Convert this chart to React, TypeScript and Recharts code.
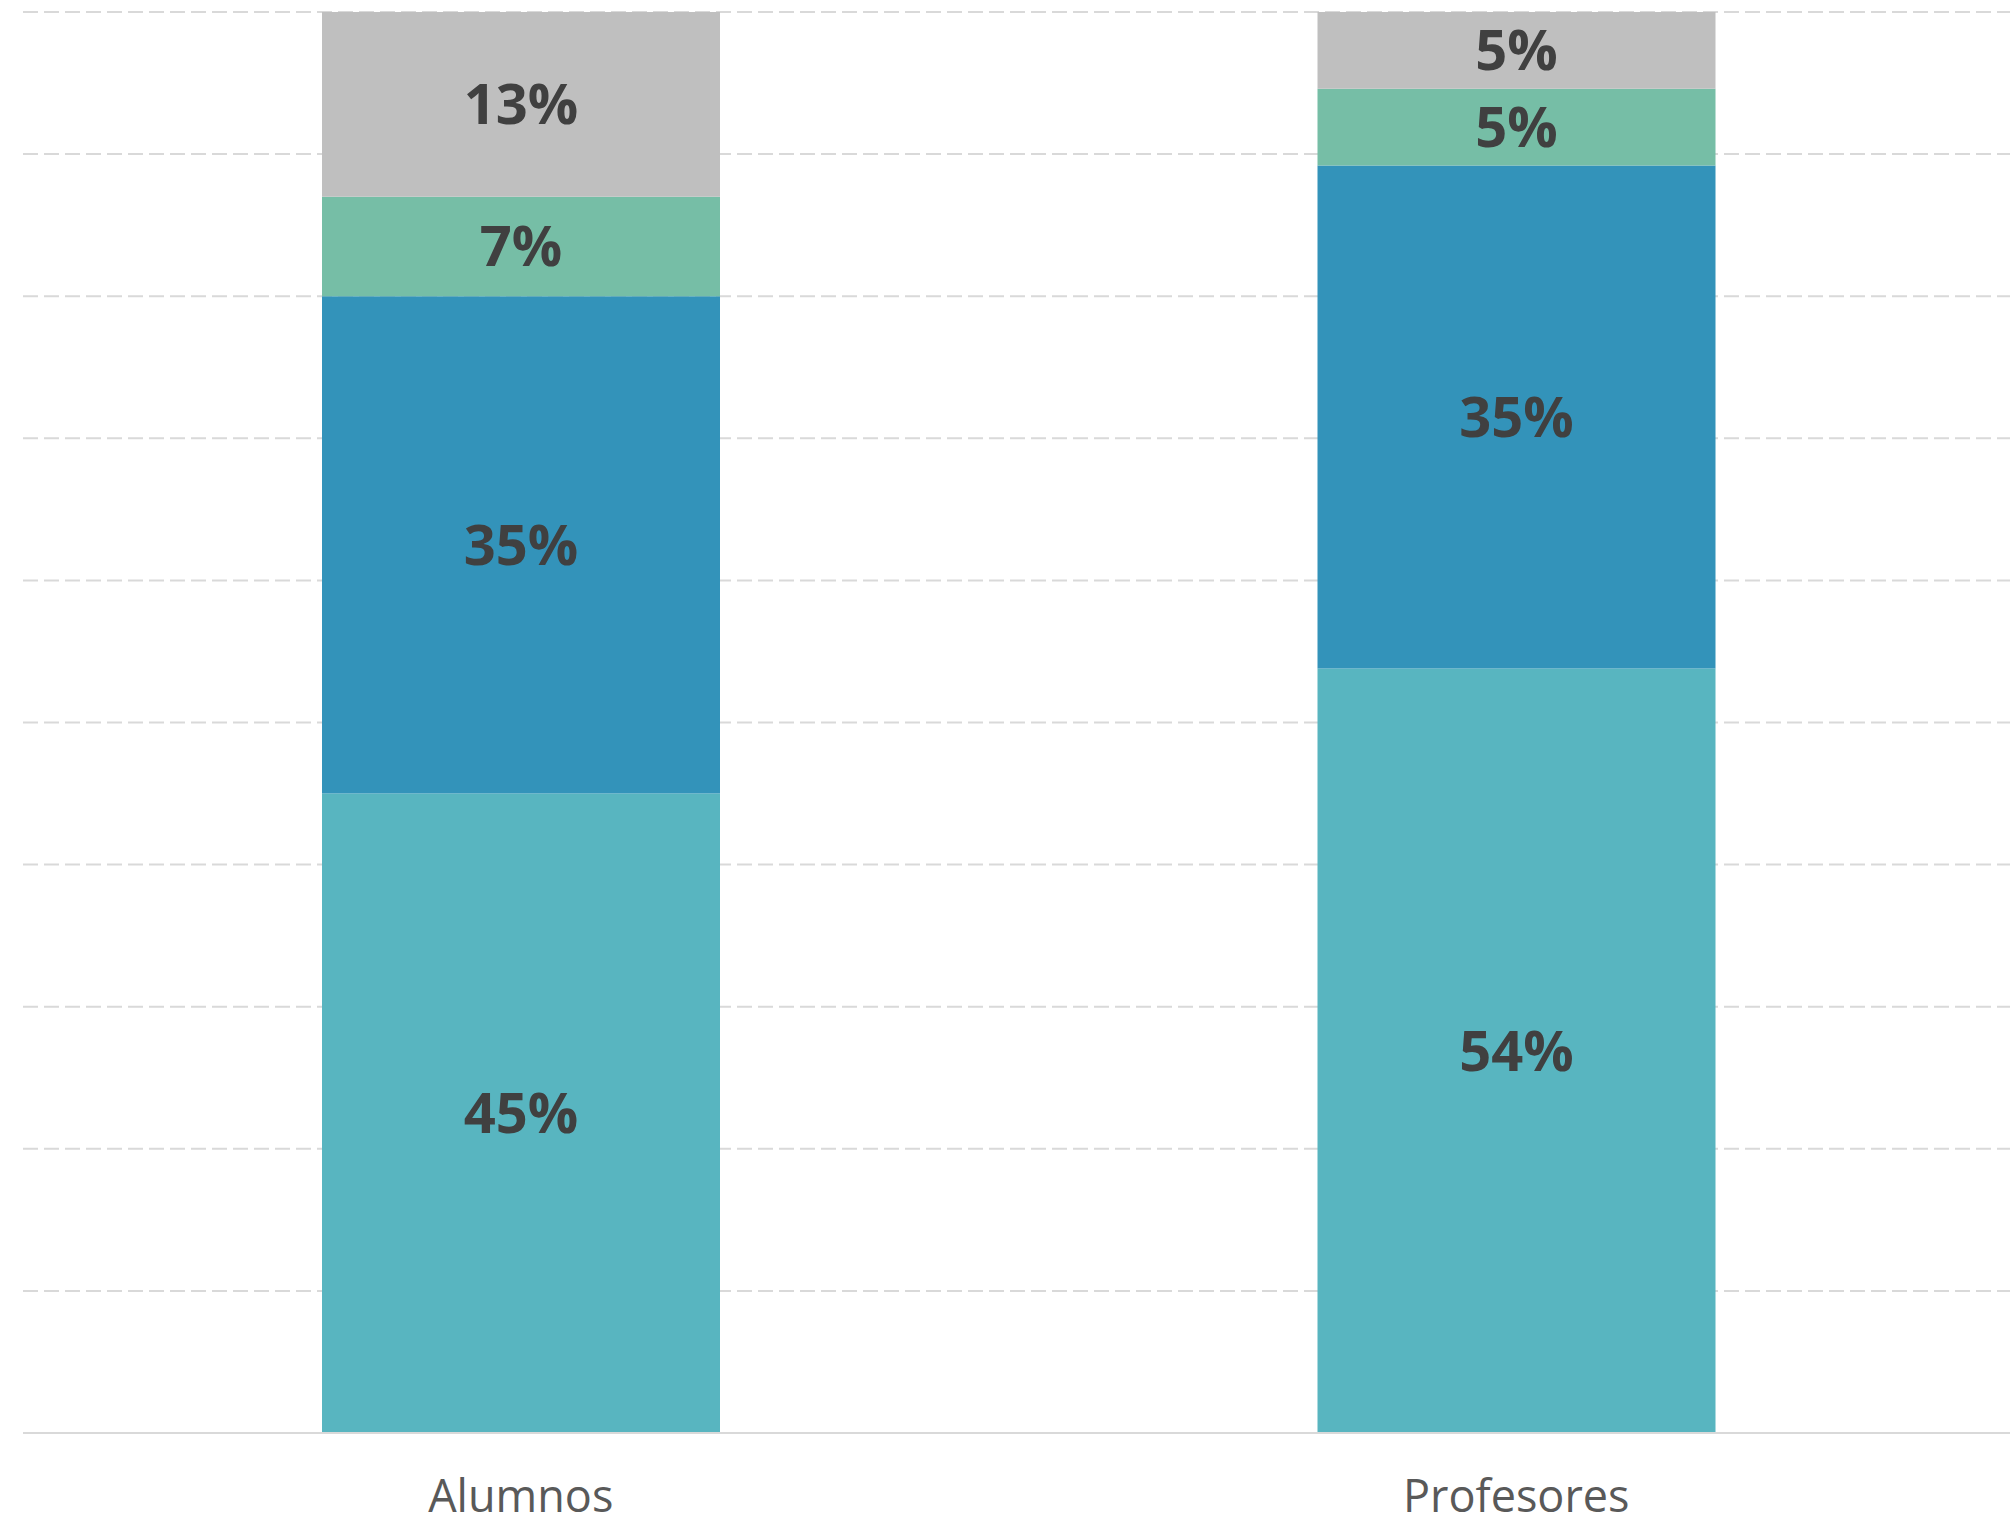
import React from "react";
import { BarChart, Bar, XAxis, YAxis, CartesianGrid, LabelList } from "recharts";

document.body.style.margin = "0";

// categories and shares (%), bottom segment first
const categories = ["Alumnos", "Profesores"];
const seg1 = [45, 53.8];
const seg2 = [35, 35.4];
const seg3 = [7, 5.4];
const seg4 = [13, 5.4];
const yTicks = [0, 10, 20, 30, 40, 50, 60, 70, 80, 90, 100];

const COLORS = ["#58B5C0", "#3393BA", "#76BEA6", "#BFBFBF"];
const FONT = "'Open Sans', 'DejaVu Sans', sans-serif";

const data = categories.map((name, i) => ({
  name,
  s1: seg1[i],
  s2: seg2[i],
  s3: seg3[i],
  s4: seg4[i],
}));

const fmt = (v: any) => `${Math.round(Number(v))}%`;

export default function App() {
  const keys = ["s1", "s2", "s3", "s4"];
  return (
    <div style={{ width: 2010, height: 1525, background: "#fff" }}>
      <BarChart
        width={2010}
        height={1525}
        data={data}
        margin={{ top: 12, right: -4, left: 23, bottom: 12 }}
        barSize={398}
      >
        <CartesianGrid
          vertical={false}
          stroke="#D9D9D9"
          strokeWidth={2}
          strokeDasharray="15 6"
        />
        <XAxis
          dataKey="name"
          height={80}
          tickLine={false}
          tickSize={0}
          tickMargin={47}
          axisLine={{ stroke: "#D9D9D9", strokeWidth: 2 }}
          tick={{ fill: "#595959", fontSize: 45, fontFamily: FONT }}
        />
        <YAxis hide domain={[0, 100]} ticks={yTicks} />
        {keys.map((k, i) => (
          <Bar key={k} dataKey={k} stackId="a" fill={COLORS[i]} isAnimationActive={false}>
            <LabelList
              dataKey={k}
              position="center"
              formatter={fmt}
              fill="#404040"
              style={{ fontSize: 56, fontWeight: 700, fontFamily: FONT }}
            />
          </Bar>
        ))}
      </BarChart>
    </div>
  );
}
